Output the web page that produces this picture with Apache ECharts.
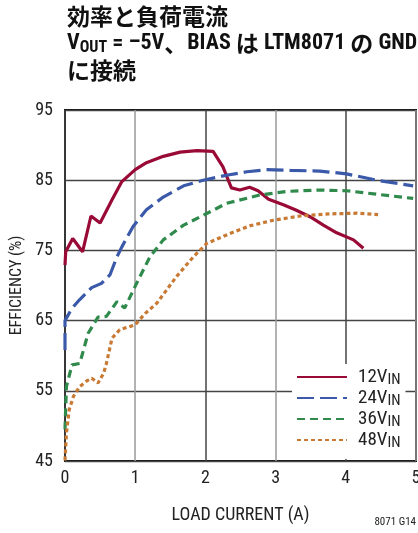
<!DOCTYPE html>
<html><head><meta charset="utf-8">
<script src="https://cdn.jsdelivr.net/npm/echarts@6/dist/echarts.min.js"></script>
<style>html,body{margin:0;padding:0;background:#fff}#c{width:418px;height:533px}</style>
</head><body><div id="c"></div>
<script>
const seriesNames = ['12V', '24V', '36V', '48V'];
const xTicks = [0, 1, 2, 3, 4, 5];
const yTicks = [45, 55, 65, 75, 85, 95];
const load12 = [0, 0.01, 0.11, 0.25, 0.37, 0.50, 0.67, 0.81, 1.0, 1.16, 1.40, 1.64, 1.88, 2.11, 2.25, 2.37, 2.49, 2.63, 2.75, 2.90, 3.11, 3.28, 3.49, 3.68, 3.87, 4.11, 4.25];
const eff12 = [72.9, 74.8, 76.7, 74.8, 79.9, 78.9, 82.2, 84.8, 86.5, 87.5, 88.4, 89.0, 89.2, 89.1, 86.9, 83.9, 83.6, 84.0, 83.5, 82.3, 81.5, 80.8, 79.8, 78.6, 77.5, 76.5, 75.3];
const load24 = [0, 0, 0.095, 0.21, 0.38, 0.52, 0.64, 0.74, 0.81, 0.97, 1.16, 1.40, 1.69, 1.97, 2.30, 2.59, 2.87, 3.21, 3.63, 4.01, 4.44, 4.96];
const eff24 = [60.8, 65.0, 66.7, 68.0, 69.7, 70.3, 71.5, 74.1, 75.5, 78.4, 80.8, 82.6, 84.2, 85.0, 85.7, 86.2, 86.5, 86.4, 86.3, 85.9, 85.0, 84.2];
const load36 = [0, 0.02, 0.10, 0.21, 0.33, 0.47, 0.59, 0.74, 0.85, 1.02, 1.21, 1.40, 1.69, 1.97, 2.30, 2.78, 3.16, 3.59, 4.01, 4.44, 4.96];
const eff36 = [49.5, 55.6, 58.7, 58.9, 63.2, 65.5, 65.6, 67.7, 66.8, 70.3, 74.1, 76.5, 78.6, 80.0, 81.7, 82.9, 83.4, 83.6, 83.5, 83.0, 82.4];
const load48 = [0, 0.02, 0.06, 0.12, 0.21, 0.31, 0.38, 0.47, 0.55, 0.59, 0.67, 0.78, 1.0, 1.14, 1.31, 1.45, 1.59, 1.83, 2.02, 2.35, 2.63, 2.97, 3.35, 3.77, 4.16, 4.46];
const eff48 = [45.1, 48.9, 52.3, 54.2, 55.6, 56.4, 56.8, 56.1, 57.5, 58.9, 62.5, 63.7, 64.4, 66.0, 67.5, 69.4, 71.3, 74.1, 76.0, 77.4, 78.5, 79.3, 79.9, 80.2, 80.3, 80.1];

const loads = [load12, load24, load36, load48];
const effs = [eff12, eff24, eff36, eff48];
const colors = ['#9a0a36', '#3b59a9', '#2f8a4c', '#c87a34'];
const dashes = ['solid', [17, 6], [8, 5], [4, 3]];

const NARROW = '"Roboto Condensed", "Liberation Sans Narrow", "DejaVu Sans Condensed", "Noto Sans CJK JP", sans-serif';
const CJK = '"Noto Sans CJK JP", sans-serif';

const chart = echarts.init(document.getElementById('c'), null, {renderer: 'canvas'});
chart.setOption({
  animation: false,
  backgroundColor: '#fff',
  title: {
    left: 67, top: 3, padding: 0,
    text: '{c|効率と負荷電流}\n{t|V}{s|OUT}{t| = –5V}{c|、}{t|BIAS }{c|は}{t| LTM8071 }{c|の}{t| GND}\n{c|に接続}',
    textStyle: {
      rich: {
        c: {fontFamily: CJK, fontWeight: 'bold', fontSize: 23, color: '#111', lineHeight: 27},
        t: {fontFamily: NARROW, fontWeight: 'bold', fontSize: 22, color: '#111', lineHeight: 27},
        s: {fontFamily: NARROW, fontWeight: 'bold', fontSize: 16, color: '#111', lineHeight: 27, padding: [8, 0, 0, 0]}
      }
    }
  },
  grid: {left: 65, right: 2, top: 110, bottom: 72, show: true, borderColor: '#111', borderWidth: 2, outerBoundsMode: 'none', containLabel: false},
  xAxis: {
    type: 'value', min: xTicks[0], max: xTicks[xTicks.length - 1], interval: 1,
    name: 'LOAD CURRENT (A)', nameLocation: 'middle', nameGap: 46,
    nameTextStyle: {fontFamily: NARROW, fontSize: 18, color: '#222'},
    axisLine: {show: false}, axisTick: {show: false},
    axisLabel: {fontFamily: NARROW, fontSize: 18, color: '#222', margin: 9},
    splitLine: {show: true, lineStyle: {color: ['#444', '#999', '#444', '#999', '#444', '#999'], width: 1.5}}
  },
  yAxis: {
    type: 'value', min: yTicks[0], max: yTicks[yTicks.length - 1], interval: 10,
    name: 'EFFICIENCY (%)', nameLocation: 'middle', nameGap: 40, nameMoveOverlap: false,
    nameTextStyle: {fontFamily: NARROW, fontSize: 16, color: '#222'},
    axisLine: {show: false}, axisTick: {show: false},
    axisLabel: {fontFamily: NARROW, fontSize: 18, color: '#222', margin: 12},
    splitLine: {show: true, lineStyle: {color: '#444', width: 1.3}}
  },
  legend: {
    orient: 'vertical', left: 292, top: 364,
    backgroundColor: '#fff', padding: [2, 5, 8, 4],
    itemWidth: 50, itemHeight: 14, itemGap: -1,
    data: seriesNames,
    itemStyle: {opacity: 0, borderWidth: 0},
    formatter: n => '{m|' + n + '}{s|IN}',
    textStyle: {
      rich: {
        m: {fontFamily: NARROW, fontSize: 19, color: '#222', lineHeight: 18, padding: [0, 0, 0, 6]},
        s: {fontFamily: NARROW, fontSize: 15, color: '#222', lineHeight: 12, padding: [7, 0, 0, 0]}
      }
    }
  },
  graphic: [{
    type: 'text', right: 2, top: 517,
    style: {text: '8071 G14', font: '11px ' + NARROW, fill: '#222'}
  }],
  series: seriesNames.map((n, i) => ({
    name: n, type: 'line', symbol: 'none', smooth: false,
    data: loads[i].map((x, j) => [x, effs[i][j]]),
    lineStyle: {color: colors[i], width: 3.2, type: dashes[i], cap: 'butt'},
    itemStyle: {color: colors[i]}
  }))
});
</script></body></html>
